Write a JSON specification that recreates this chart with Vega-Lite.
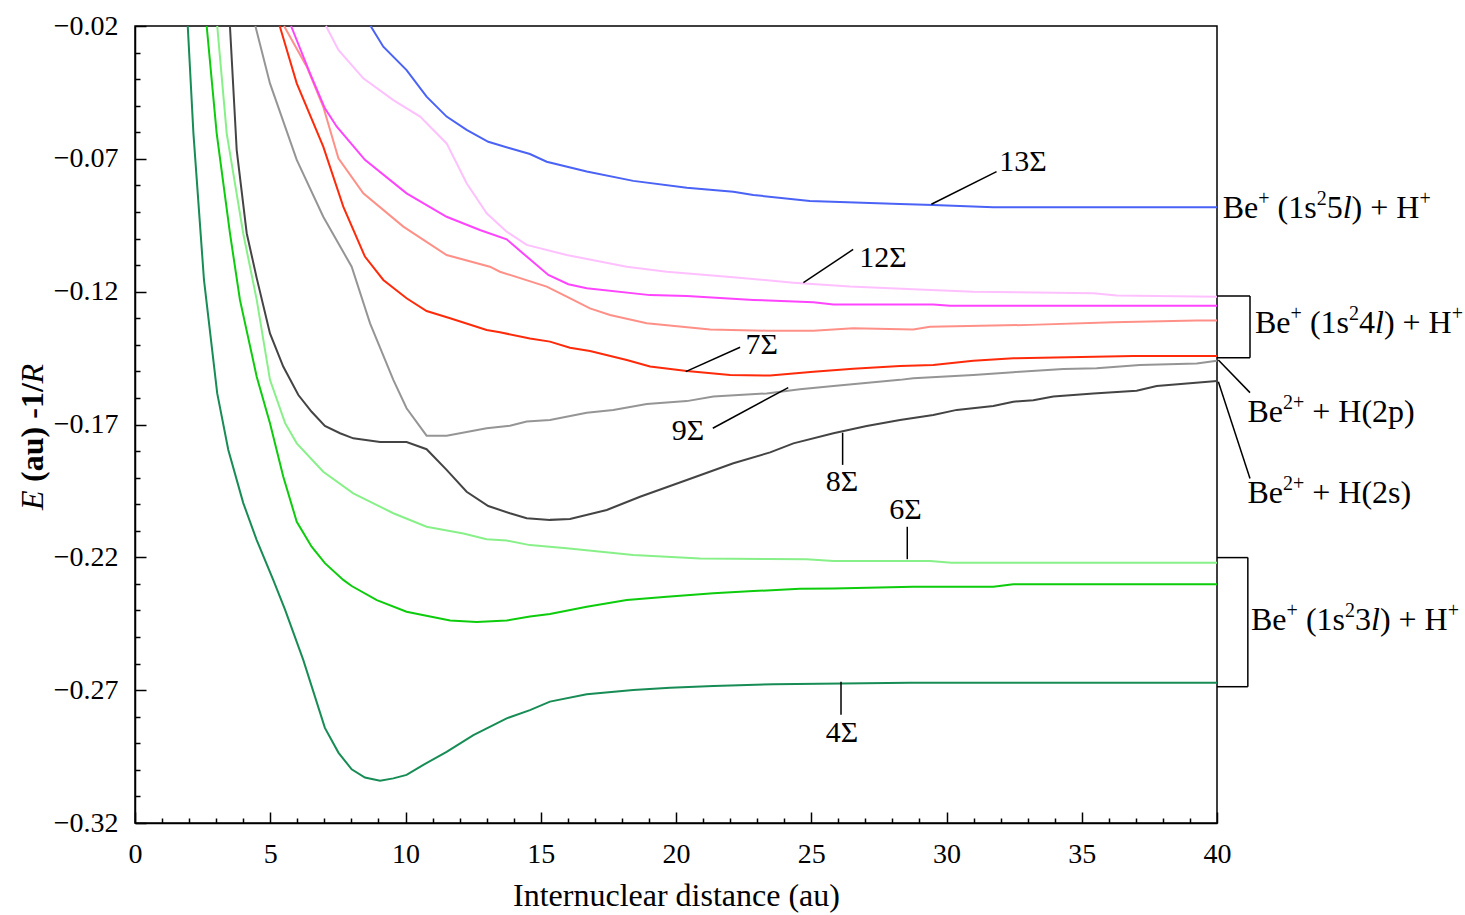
{
  "$schema": "https://vega.github.io/schema/vega-lite/v6.json",
  "autosize": {"type": "none"},
  "width": 1082,
  "height": 797,
  "padding": {"left": 135, "top": 26, "right": 248, "bottom": 92},
  "background": "white",
  "config": {
    "view": {"stroke": "black", "strokeWidth": 1.5},
    "font": "Liberation Serif",
    "text": {"font": "Liberation Serif", "color": "black"}
  },
  "datasets": {
    "curves": [
      {"state": "4Σ", "R": 1.95, "E": -0.02}, {"state": "4Σ", "R": 2.16, "E": -0.0604}, {"state": "4Σ", "R": 2.55, "E": -0.1156}, {"state": "4Σ", "R": 3.04, "E": -0.1583}, {"state": "4Σ", "R": 3.45, "E": -0.1796}, {"state": "4Σ", "R": 4.0, "E": -0.1995}, {"state": "4Σ", "R": 4.5, "E": -0.2135}, {"state": "4Σ", "R": 5.11, "E": -0.2285}, {"state": "4Σ", "R": 5.55, "E": -0.2398}, {"state": "4Σ", "R": 6.22, "E": -0.2586}, {"state": "4Σ", "R": 7.02, "E": -0.2842}, {"state": "4Σ", "R": 7.52, "E": -0.2935}, {"state": "4Σ", "R": 8.01, "E": -0.2998}, {"state": "4Σ", "R": 8.5, "E": -0.3029}, {"state": "4Σ", "R": 9.06, "E": -0.3041}, {"state": "4Σ", "R": 9.55, "E": -0.3032}, {"state": "4Σ", "R": 10.04, "E": -0.3019}, {"state": "4Σ", "R": 10.66, "E": -0.2981}, {"state": "4Σ", "R": 11.52, "E": -0.2932}, {"state": "4Σ", "R": 12.51, "E": -0.2869}, {"state": "4Σ", "R": 13.74, "E": -0.2806}, {"state": "4Σ", "R": 14.6, "E": -0.2775}, {"state": "4Σ", "R": 15.34, "E": -0.2743}, {"state": "4Σ", "R": 16.7, "E": -0.2715}, {"state": "4Σ", "R": 18.42, "E": -0.2699}, {"state": "4Σ", "R": 19.78, "E": -0.2691}, {"state": "4Σ", "R": 21.38, "E": -0.2684}, {"state": "4Σ", "R": 23.6, "E": -0.2678}, {"state": "4Σ", "R": 28.65, "E": -0.2672}, {"state": "4Σ", "R": 40, "E": -0.2672},
      {"state": "5Σ", "R": 2.65, "E": -0.02}, {"state": "5Σ", "R": 3.02, "E": -0.0604}, {"state": "5Σ", "R": 3.51, "E": -0.098}, {"state": "5Σ", "R": 3.88, "E": -0.1231}, {"state": "5Σ", "R": 4.5, "E": -0.152}, {"state": "5Σ", "R": 4.99, "E": -0.1695}, {"state": "5Σ", "R": 5.48, "E": -0.1896}, {"state": "5Σ", "R": 5.98, "E": -0.2066}, {"state": "5Σ", "R": 6.53, "E": -0.216}, {"state": "5Σ", "R": 7.02, "E": -0.2222}, {"state": "5Σ", "R": 7.7, "E": -0.2285}, {"state": "5Σ", "R": 8.01, "E": -0.2308}, {"state": "5Σ", "R": 8.94, "E": -0.2361}, {"state": "5Σ", "R": 10.04, "E": -0.2405}, {"state": "5Σ", "R": 10.91, "E": -0.2423}, {"state": "5Σ", "R": 11.65, "E": -0.2438}, {"state": "5Σ", "R": 12.63, "E": -0.2443}, {"state": "5Σ", "R": 13.74, "E": -0.2438}, {"state": "5Σ", "R": 14.6, "E": -0.2423}, {"state": "5Σ", "R": 15.34, "E": -0.2413}, {"state": "5Σ", "R": 16.7, "E": -0.2386}, {"state": "5Σ", "R": 18.18, "E": -0.2361}, {"state": "5Σ", "R": 19.66, "E": -0.2348}, {"state": "5Σ", "R": 21.38, "E": -0.2335}, {"state": "5Σ", "R": 22.86, "E": -0.2327}, {"state": "5Σ", "R": 24.58, "E": -0.2318}, {"state": "5Σ", "R": 25.82, "E": -0.2317}, {"state": "5Σ", "R": 28.77, "E": -0.2311}, {"state": "5Σ", "R": 31.73, "E": -0.2311}, {"state": "5Σ", "R": 32.47, "E": -0.2301}, {"state": "5Σ", "R": 40, "E": -0.2301},
      {"state": "6Σ", "R": 3.04, "E": -0.02}, {"state": "6Σ", "R": 3.39, "E": -0.0604}, {"state": "6Σ", "R": 4.0, "E": -0.098}, {"state": "6Σ", "R": 4.5, "E": -0.1231}, {"state": "6Σ", "R": 4.99, "E": -0.1532}, {"state": "6Σ", "R": 5.55, "E": -0.1695}, {"state": "6Σ", "R": 5.98, "E": -0.1771}, {"state": "6Σ", "R": 6.96, "E": -0.1878}, {"state": "6Σ", "R": 8.07, "E": -0.1959}, {"state": "6Σ", "R": 9.55, "E": -0.2034}, {"state": "6Σ", "R": 10.78, "E": -0.2085}, {"state": "6Σ", "R": 12.14, "E": -0.211}, {"state": "6Σ", "R": 13.0, "E": -0.2132}, {"state": "6Σ", "R": 13.74, "E": -0.2137}, {"state": "6Σ", "R": 14.6, "E": -0.2154}, {"state": "6Σ", "R": 15.96, "E": -0.2166}, {"state": "6Σ", "R": 18.42, "E": -0.2191}, {"state": "6Σ", "R": 20.89, "E": -0.2204}, {"state": "6Σ", "R": 23.35, "E": -0.2206}, {"state": "6Σ", "R": 24.83, "E": -0.2207}, {"state": "6Σ", "R": 25.82, "E": -0.2214}, {"state": "6Σ", "R": 29.39, "E": -0.2214}, {"state": "6Σ", "R": 30.19, "E": -0.222}, {"state": "6Σ", "R": 40, "E": -0.222},
      {"state": "8Σ", "R": 3.51, "E": -0.02}, {"state": "8Σ", "R": 3.76, "E": -0.0667}, {"state": "8Σ", "R": 4.13, "E": -0.098}, {"state": "8Σ", "R": 4.5, "E": -0.1149}, {"state": "8Σ", "R": 4.99, "E": -0.1357}, {"state": "8Σ", "R": 5.48, "E": -0.1482}, {"state": "8Σ", "R": 6.04, "E": -0.1589}, {"state": "8Σ", "R": 6.53, "E": -0.1652}, {"state": "8Σ", "R": 7.02, "E": -0.1705}, {"state": "8Σ", "R": 7.58, "E": -0.1733}, {"state": "8Σ", "R": 8.07, "E": -0.1752}, {"state": "8Σ", "R": 9.06, "E": -0.1766}, {"state": "8Σ", "R": 10.04, "E": -0.1766}, {"state": "8Σ", "R": 10.78, "E": -0.1793}, {"state": "8Σ", "R": 11.52, "E": -0.1871}, {"state": "8Σ", "R": 12.26, "E": -0.1953}, {"state": "8Σ", "R": 13.06, "E": -0.2007}, {"state": "8Σ", "R": 13.86, "E": -0.2034}, {"state": "8Σ", "R": 14.48, "E": -0.2053}, {"state": "8Σ", "R": 15.34, "E": -0.2059}, {"state": "8Σ", "R": 16.08, "E": -0.2056}, {"state": "8Σ", "R": 17.44, "E": -0.2022}, {"state": "8Σ", "R": 18.67, "E": -0.1972}, {"state": "8Σ", "R": 20.4, "E": -0.1909}, {"state": "8Σ", "R": 22.12, "E": -0.1846}, {"state": "8Σ", "R": 23.48, "E": -0.1805}, {"state": "8Σ", "R": 24.34, "E": -0.1771}, {"state": "8Σ", "R": 25.82, "E": -0.1733}, {"state": "8Σ", "R": 27.05, "E": -0.1706}, {"state": "8Σ", "R": 28.28, "E": -0.1683}, {"state": "8Σ", "R": 29.51, "E": -0.1664}, {"state": "8Σ", "R": 30.38, "E": -0.1645}, {"state": "8Σ", "R": 31.73, "E": -0.163}, {"state": "8Σ", "R": 32.47, "E": -0.1614}, {"state": "8Σ", "R": 33.21, "E": -0.1609}, {"state": "8Σ", "R": 33.95, "E": -0.1595}, {"state": "8Σ", "R": 35.43, "E": -0.1583}, {"state": "8Σ", "R": 37.03, "E": -0.1573}, {"state": "8Σ", "R": 37.77, "E": -0.1555}, {"state": "8Σ", "R": 40, "E": -0.1536},
      {"state": "9Σ", "R": 4.45, "E": -0.02}, {"state": "9Σ", "R": 4.99, "E": -0.0416}, {"state": "9Σ", "R": 5.98, "E": -0.0704}, {"state": "9Σ", "R": 6.96, "E": -0.0918}, {"state": "9Σ", "R": 8.01, "E": -0.1106}, {"state": "9Σ", "R": 8.69, "E": -0.1319}, {"state": "9Σ", "R": 9.55, "E": -0.1532}, {"state": "9Σ", "R": 10.04, "E": -0.1639}, {"state": "9Σ", "R": 10.78, "E": -0.1742}, {"state": "9Σ", "R": 11.52, "E": -0.1742}, {"state": "9Σ", "R": 13.0, "E": -0.1714}, {"state": "9Σ", "R": 13.86, "E": -0.1705}, {"state": "9Σ", "R": 14.48, "E": -0.1689}, {"state": "9Σ", "R": 15.34, "E": -0.1683}, {"state": "9Σ", "R": 16.7, "E": -0.1656}, {"state": "9Σ", "R": 17.68, "E": -0.1645}, {"state": "9Σ", "R": 18.92, "E": -0.1623}, {"state": "9Σ", "R": 20.4, "E": -0.1612}, {"state": "9Σ", "R": 21.38, "E": -0.1595}, {"state": "9Σ", "R": 23.35, "E": -0.1583}, {"state": "9Σ", "R": 24.58, "E": -0.1567}, {"state": "9Σ", "R": 25.82, "E": -0.1555}, {"state": "9Σ", "R": 28.28, "E": -0.1532}, {"state": "9Σ", "R": 28.77, "E": -0.1526}, {"state": "9Σ", "R": 30.99, "E": -0.1514}, {"state": "9Σ", "R": 32.47, "E": -0.1503}, {"state": "9Σ", "R": 34.32, "E": -0.1491}, {"state": "9Σ", "R": 35.55, "E": -0.1488}, {"state": "9Σ", "R": 37.15, "E": -0.1476}, {"state": "9Σ", "R": 39.25, "E": -0.147}, {"state": "9Σ", "R": 40, "E": -0.146},
      {"state": "7Σ", "R": 5.35, "E": -0.02}, {"state": "7Σ", "R": 5.98, "E": -0.0416}, {"state": "7Σ", "R": 6.96, "E": -0.0654}, {"state": "7Σ", "R": 7.7, "E": -0.088}, {"state": "7Σ", "R": 8.5, "E": -0.1068}, {"state": "7Σ", "R": 9.18, "E": -0.1156}, {"state": "7Σ", "R": 10.04, "E": -0.1225}, {"state": "7Σ", "R": 10.78, "E": -0.1273}, {"state": "7Σ", "R": 11.65, "E": -0.13}, {"state": "7Σ", "R": 13.0, "E": -0.1344}, {"state": "7Σ", "R": 13.49, "E": -0.1353}, {"state": "7Σ", "R": 14.6, "E": -0.1376}, {"state": "7Σ", "R": 15.34, "E": -0.1388}, {"state": "7Σ", "R": 16.08, "E": -0.1411}, {"state": "7Σ", "R": 16.82, "E": -0.1423}, {"state": "7Σ", "R": 18.18, "E": -0.1457}, {"state": "7Σ", "R": 19.04, "E": -0.1482}, {"state": "7Σ", "R": 20.4, "E": -0.1499}, {"state": "7Σ", "R": 22.0, "E": -0.1514}, {"state": "7Σ", "R": 23.48, "E": -0.1516}, {"state": "7Σ", "R": 25.08, "E": -0.1501}, {"state": "7Σ", "R": 26.55, "E": -0.149}, {"state": "7Σ", "R": 28.28, "E": -0.148}, {"state": "7Σ", "R": 29.51, "E": -0.1476}, {"state": "7Σ", "R": 30.99, "E": -0.146}, {"state": "7Σ", "R": 32.47, "E": -0.1451}, {"state": "7Σ", "R": 36.91, "E": -0.1442}, {"state": "7Σ", "R": 40, "E": -0.1442},
      {"state": "10Σ", "R": 5.51, "E": -0.02}, {"state": "10Σ", "R": 6.35, "E": -0.0353}, {"state": "10Σ", "R": 6.96, "E": -0.0504}, {"state": "10Σ", "R": 7.52, "E": -0.0698}, {"state": "10Σ", "R": 8.44, "E": -0.083}, {"state": "10Σ", "R": 9.92, "E": -0.0955}, {"state": "10Σ", "R": 11.52, "E": -0.1062}, {"state": "10Σ", "R": 13.12, "E": -0.1106}, {"state": "10Σ", "R": 13.49, "E": -0.1125}, {"state": "10Σ", "R": 15.22, "E": -0.1181}, {"state": "10Σ", "R": 15.96, "E": -0.1219}, {"state": "10Σ", "R": 16.82, "E": -0.1263}, {"state": "10Σ", "R": 17.56, "E": -0.1288}, {"state": "10Σ", "R": 18.92, "E": -0.1319}, {"state": "10Σ", "R": 21.26, "E": -0.1342}, {"state": "10Σ", "R": 23.35, "E": -0.1347}, {"state": "10Σ", "R": 25.08, "E": -0.1347}, {"state": "10Σ", "R": 26.55, "E": -0.1338}, {"state": "10Σ", "R": 28.77, "E": -0.1342}, {"state": "10Σ", "R": 29.39, "E": -0.1332}, {"state": "10Σ", "R": 33.09, "E": -0.1325}, {"state": "10Σ", "R": 36.17, "E": -0.1315}, {"state": "10Σ", "R": 39.25, "E": -0.1309}, {"state": "10Σ", "R": 40, "E": -0.1309},
      {"state": "11Σ", "R": 5.77, "E": -0.02}, {"state": "11Σ", "R": 6.47, "E": -0.0378}, {"state": "11Σ", "R": 7.02, "E": -0.051}, {"state": "11Σ", "R": 7.46, "E": -0.0579}, {"state": "11Σ", "R": 8.5, "E": -0.0704}, {"state": "11Σ", "R": 10.04, "E": -0.083}, {"state": "11Σ", "R": 11.52, "E": -0.0918}, {"state": "11Σ", "R": 12.75, "E": -0.0968}, {"state": "11Σ", "R": 13.74, "E": -0.1003}, {"state": "11Σ", "R": 14.48, "E": -0.1068}, {"state": "11Σ", "R": 15.28, "E": -0.1137}, {"state": "11Σ", "R": 16.02, "E": -0.1172}, {"state": "11Σ", "R": 16.7, "E": -0.1187}, {"state": "11Σ", "R": 19.04, "E": -0.1213}, {"state": "11Σ", "R": 20.4, "E": -0.1216}, {"state": "11Σ", "R": 22.86, "E": -0.1231}, {"state": "11Σ", "R": 25.08, "E": -0.124}, {"state": "11Σ", "R": 25.82, "E": -0.1248}, {"state": "11Σ", "R": 29.51, "E": -0.1248}, {"state": "11Σ", "R": 30.13, "E": -0.1253}, {"state": "11Σ", "R": 40, "E": -0.1253},
      {"state": "12Σ", "R": 7.06, "E": -0.02}, {"state": "12Σ", "R": 7.52, "E": -0.029}, {"state": "12Σ", "R": 8.44, "E": -0.0397}, {"state": "12Σ", "R": 9.55, "E": -0.0479}, {"state": "12Σ", "R": 10.54, "E": -0.0541}, {"state": "12Σ", "R": 11.52, "E": -0.0642}, {"state": "12Σ", "R": 12.26, "E": -0.0792}, {"state": "12Σ", "R": 13.0, "E": -0.0905}, {"state": "12Σ", "R": 13.74, "E": -0.0974}, {"state": "12Σ", "R": 14.48, "E": -0.1024}, {"state": "12Σ", "R": 15.96, "E": -0.1062}, {"state": "12Σ", "R": 18.18, "E": -0.1106}, {"state": "12Σ", "R": 19.66, "E": -0.1125}, {"state": "12Σ", "R": 22.12, "E": -0.1146}, {"state": "12Σ", "R": 24.34, "E": -0.1166}, {"state": "12Σ", "R": 26.43, "E": -0.1181}, {"state": "12Σ", "R": 28.77, "E": -0.1191}, {"state": "12Σ", "R": 30.99, "E": -0.12}, {"state": "12Σ", "R": 35.43, "E": -0.1206}, {"state": "12Σ", "R": 36.29, "E": -0.1214}, {"state": "12Σ", "R": 40, "E": -0.1219},
      {"state": "13Σ", "R": 8.71, "E": -0.02}, {"state": "13Σ", "R": 9.18, "E": -0.0278}, {"state": "13Σ", "R": 10.04, "E": -0.0366}, {"state": "13Σ", "R": 10.78, "E": -0.0466}, {"state": "13Σ", "R": 11.52, "E": -0.0541}, {"state": "13Σ", "R": 12.26, "E": -0.0591}, {"state": "13Σ", "R": 13.06, "E": -0.0636}, {"state": "13Σ", "R": 13.86, "E": -0.066}, {"state": "13Σ", "R": 14.6, "E": -0.0682}, {"state": "13Σ", "R": 15.22, "E": -0.0711}, {"state": "13Σ", "R": 16.7, "E": -0.0748}, {"state": "13Σ", "R": 18.42, "E": -0.0783}, {"state": "13Σ", "R": 20.4, "E": -0.0809}, {"state": "13Σ", "R": 22.12, "E": -0.0824}, {"state": "13Σ", "R": 22.86, "E": -0.0836}, {"state": "13Σ", "R": 24.95, "E": -0.0859}, {"state": "13Σ", "R": 28.28, "E": -0.087}, {"state": "13Σ", "R": 29.51, "E": -0.0874}, {"state": "13Σ", "R": 31.73, "E": -0.0882}, {"state": "13Σ", "R": 40, "E": -0.0882}
    ],
    "leaders": [
      {"x": 29.44, "y": -0.0871, "x2": 31.85, "y2": -0.0748},
      {"x": 24.71, "y": -0.1166, "x2": 26.55, "y2": -0.1041},
      {"x": 20.36, "y": -0.1501, "x2": 22.37, "y2": -0.1409},
      {"x": 21.36, "y": -0.1714, "x2": 24.15, "y2": -0.1561},
      {"x": 26.16, "y": -0.1731, "x2": 26.16, "y2": -0.1852},
      {"x": 28.55, "y": -0.2085, "x2": 28.55, "y2": -0.2207},
      {"x": 26.1, "y": -0.2668, "x2": 26.1, "y2": -0.2793},
      {"x": 40.05, "y": -0.1457, "x2": 41.22, "y2": -0.158},
      {"x": 40.05, "y": -0.1539, "x2": 41.22, "y2": -0.1903},
      {"x": 40, "y": -0.1216, "x2": 41.22, "y2": -0.1216},
      {"x": 40, "y": -0.1449, "x2": 41.22, "y2": -0.1449},
      {"x": 41.22, "y": -0.1216, "x2": 41.22, "y2": -0.1449},
      {"x": 40, "y": -0.2201, "x2": 41.14, "y2": -0.2201},
      {"x": 40, "y": -0.2687, "x2": 41.14, "y2": -0.2687},
      {"x": 41.14, "y": -0.2201, "x2": 41.14, "y2": -0.2687}
    ],
    "sigmaLabels": [
      {"x": 32.83, "y": -0.0712, "label": "13Σ"},
      {"x": 27.65, "y": -0.1073, "label": "12Σ"},
      {"x": 23.17, "y": -0.1401, "label": "7Σ"},
      {"x": 20.44, "y": -0.1724, "label": "9Σ"},
      {"x": 26.14, "y": -0.1916, "label": "8Σ"},
      {"x": 28.48, "y": -0.2022, "label": "6Σ"},
      {"x": 26.14, "y": -0.2861, "label": "4Σ"}
    ],
    "limitRegular": [
      {"x": 40.211, "y": -0.0924, "label": "Be"}, {"x": 42.24, "y": -0.0924, "label": "(1s"}, {"x": 44.056, "y": -0.0924, "label": "5"}, {"x": 44.976, "y": -0.0924, "label": ") + H"},
      {"x": 41.405, "y": -0.1357, "label": "Be"}, {"x": 43.434, "y": -0.1357, "label": "(1s"}, {"x": 45.25, "y": -0.1357, "label": "4"}, {"x": 46.17, "y": -0.1357, "label": ") + H"},
      {"x": 41.257, "y": -0.2474, "label": "Be"}, {"x": 43.286, "y": -0.2474, "label": "(1s"}, {"x": 45.102, "y": -0.2474, "label": "3"}, {"x": 46.022, "y": -0.2474, "label": ") + H"},
      {"x": 41.124, "y": -0.1689, "label": "Be"}, {"x": 43.521, "y": -0.1689, "label": "+ H(2p)"},
      {"x": 41.124, "y": -0.1997, "label": "Be"}, {"x": 43.521, "y": -0.1997, "label": "+ H(2s)"}
    ],
    "limitSup": [
      {"x": 41.527, "y": -0.0924, "label": "+"}, {"x": 43.686, "y": -0.0924, "label": "2"}, {"x": 47.482, "y": -0.0924, "label": "+"},
      {"x": 42.721, "y": -0.1357, "label": "+"}, {"x": 44.88, "y": -0.1357, "label": "2"}, {"x": 48.677, "y": -0.1357, "label": "+"},
      {"x": 42.573, "y": -0.2474, "label": "+"}, {"x": 44.732, "y": -0.2474, "label": "2"}, {"x": 48.529, "y": -0.2474, "label": "+"},
      {"x": 42.44, "y": -0.1689, "label": "2+"},
      {"x": 42.44, "y": -0.1997, "label": "2+"}
    ],
    "limitItalic": [
      {"x": 44.647, "y": -0.0924, "label": "l"},
      {"x": 45.841, "y": -0.1357, "label": "l"},
      {"x": 45.693, "y": -0.2474, "label": "l"}
    ],
    "yTitleItalic": [
      {"x": -3.771, "y": -0.2022, "label": "E"},
      {"x": -3.771, "y": -0.1546, "label": "R"}
    ],
    "yTitleBold": [
      {"x": -3.771, "y": -0.1916, "label": "(au) -1/"}
    ]
  },
  "resolve": {"axis": {"x": "independent", "y": "independent"}},
  "layer": [
    {
      "data": {"name": "curves"},
      "mark": {"type": "line", "strokeWidth": 2},
      "encoding": {
        "x": {
          "field": "R", "type": "quantitative",
          "scale": {"domain": [0, 40], "nice": false, "zero": false},
          "axis": {
            "orient": "bottom", "values": [0, 5, 10, 15, 20, 25, 30, 35, 40], "format": "d",
            "title": "Internuclear distance (au)", "titleFont": "Liberation Serif", "titleFontSize": 32,
            "titleFontWeight": "normal", "titleColor": "black", "titlePadding": 12,
            "labelFont": "Liberation Serif", "labelFontSize": 28, "labelColor": "black", "labelPadding": 28,
            "labelFlush": false, "tickSize": -11, "tickColor": "black", "tickWidth": 1.5,
            "domainColor": "black", "domainWidth": 1.5, "grid": false
          }
        },
        "y": {
          "field": "E", "type": "quantitative",
          "scale": {"domain": [-0.32, -0.02], "nice": false, "zero": false},
          "axis": {
            "orient": "left", "values": [-0.32, -0.27, -0.22, -0.17, -0.12, -0.07, -0.02], "format": ".2f",
            "title": null,
            "labelFont": "Liberation Serif", "labelFontSize": 28, "labelColor": "black", "labelPadding": 28,
            "labelFlush": false, "tickSize": -11, "tickColor": "black", "tickWidth": 1.5,
            "domainColor": "black", "domainWidth": 1.5, "grid": false
          }
        },
        "color": {
          "field": "state", "type": "nominal",
          "scale": {
            "domain": ["4Σ", "5Σ", "6Σ", "7Σ", "8Σ", "9Σ", "10Σ", "11Σ", "12Σ", "13Σ"],
            "range": ["#178c55", "#0ccc0c", "#88f088", "#ff2a0a", "#444444", "#959595", "#ff9088", "#ff44ff", "#ffc0ff", "#4a62f5"]
          },
          "legend": null
        }
      }
    },
    {
      "data": {"name": "leaders"},
      "mark": {"type": "rule", "color": "black", "strokeWidth": 1.5},
      "encoding": {
        "x": {
          "field": "x", "type": "quantitative",
          "scale": {"domain": [0, 40], "nice": false, "zero": false},
          "axis": {
            "orient": "bottom",
            "values": [1, 2, 3, 4, 6, 7, 8, 9, 11, 12, 13, 14, 16, 17, 18, 19, 21, 22, 23, 24, 26, 27, 28, 29, 31, 32, 33, 34, 36, 37, 38, 39],
            "labels": false, "domain": false, "title": null, "grid": false,
            "tickSize": -5, "tickColor": "black", "tickWidth": 1.5
          }
        },
        "x2": {"field": "x2"},
        "y": {
          "field": "y", "type": "quantitative",
          "scale": {"domain": [-0.32, -0.02], "nice": false, "zero": false},
          "axis": {
            "orient": "left",
            "values": [-0.31, -0.3, -0.29, -0.28, -0.26, -0.25, -0.24, -0.23, -0.21, -0.2, -0.19, -0.18, -0.16, -0.15, -0.14, -0.13, -0.11, -0.1, -0.09, -0.08, -0.06, -0.05, -0.04, -0.03],
            "labels": false, "domain": false, "title": null, "grid": false,
            "tickSize": -5, "tickColor": "black", "tickWidth": 1.5
          }
        },
        "y2": {"field": "y2"}
      }
    },
    {
      "data": {"name": "sigmaLabels"},
      "mark": {"type": "text", "fontSize": 30, "align": "center", "baseline": "middle", "font": "Liberation Serif", "color": "black"},
      "encoding": {
        "x": {"field": "x", "type": "quantitative", "scale": {"domain": [0, 40], "nice": false, "zero": false}, "axis": null},
        "y": {"field": "y", "type": "quantitative", "scale": {"domain": [-0.32, -0.02], "nice": false, "zero": false}, "axis": null},
        "text": {"field": "label"}
      }
    },
    {
      "data": {"name": "limitRegular"},
      "mark": {"type": "text", "fontSize": 32, "align": "left", "baseline": "alphabetic", "font": "Liberation Serif", "color": "black"},
      "encoding": {
        "x": {"field": "x", "type": "quantitative", "scale": {"domain": [0, 40], "nice": false, "zero": false}, "axis": null},
        "y": {"field": "y", "type": "quantitative", "scale": {"domain": [-0.32, -0.02], "nice": false, "zero": false}, "axis": null},
        "text": {"field": "label"}
      }
    },
    {
      "data": {"name": "limitSup"},
      "mark": {"type": "text", "fontSize": 20, "dy": -13, "align": "left", "baseline": "alphabetic", "font": "Liberation Serif", "color": "black"},
      "encoding": {
        "x": {"field": "x", "type": "quantitative", "scale": {"domain": [0, 40], "nice": false, "zero": false}, "axis": null},
        "y": {"field": "y", "type": "quantitative", "scale": {"domain": [-0.32, -0.02], "nice": false, "zero": false}, "axis": null},
        "text": {"field": "label"}
      }
    },
    {
      "data": {"name": "limitItalic"},
      "mark": {"type": "text", "fontSize": 32, "fontStyle": "italic", "align": "left", "baseline": "alphabetic", "font": "Liberation Serif", "color": "black"},
      "encoding": {
        "x": {"field": "x", "type": "quantitative", "scale": {"domain": [0, 40], "nice": false, "zero": false}, "axis": null},
        "y": {"field": "y", "type": "quantitative", "scale": {"domain": [-0.32, -0.02], "nice": false, "zero": false}, "axis": null},
        "text": {"field": "label"}
      }
    },
    {
      "data": {"name": "yTitleItalic"},
      "mark": {"type": "text", "fontSize": 32, "fontStyle": "italic", "angle": 270, "align": "left", "baseline": "middle", "font": "Liberation Serif", "color": "black"},
      "encoding": {
        "x": {"field": "x", "type": "quantitative", "scale": {"domain": [0, 40], "nice": false, "zero": false}, "axis": null},
        "y": {"field": "y", "type": "quantitative", "scale": {"domain": [-0.32, -0.02], "nice": false, "zero": false}, "axis": null},
        "text": {"field": "label"}
      }
    },
    {
      "data": {"name": "yTitleBold"},
      "mark": {"type": "text", "fontSize": 32, "fontWeight": "bold", "angle": 270, "align": "left", "baseline": "middle", "font": "Liberation Serif", "color": "black"},
      "encoding": {
        "x": {"field": "x", "type": "quantitative", "scale": {"domain": [0, 40], "nice": false, "zero": false}, "axis": null},
        "y": {"field": "y", "type": "quantitative", "scale": {"domain": [-0.32, -0.02], "nice": false, "zero": false}, "axis": null},
        "text": {"field": "label"}
      }
    }
  ]
}
